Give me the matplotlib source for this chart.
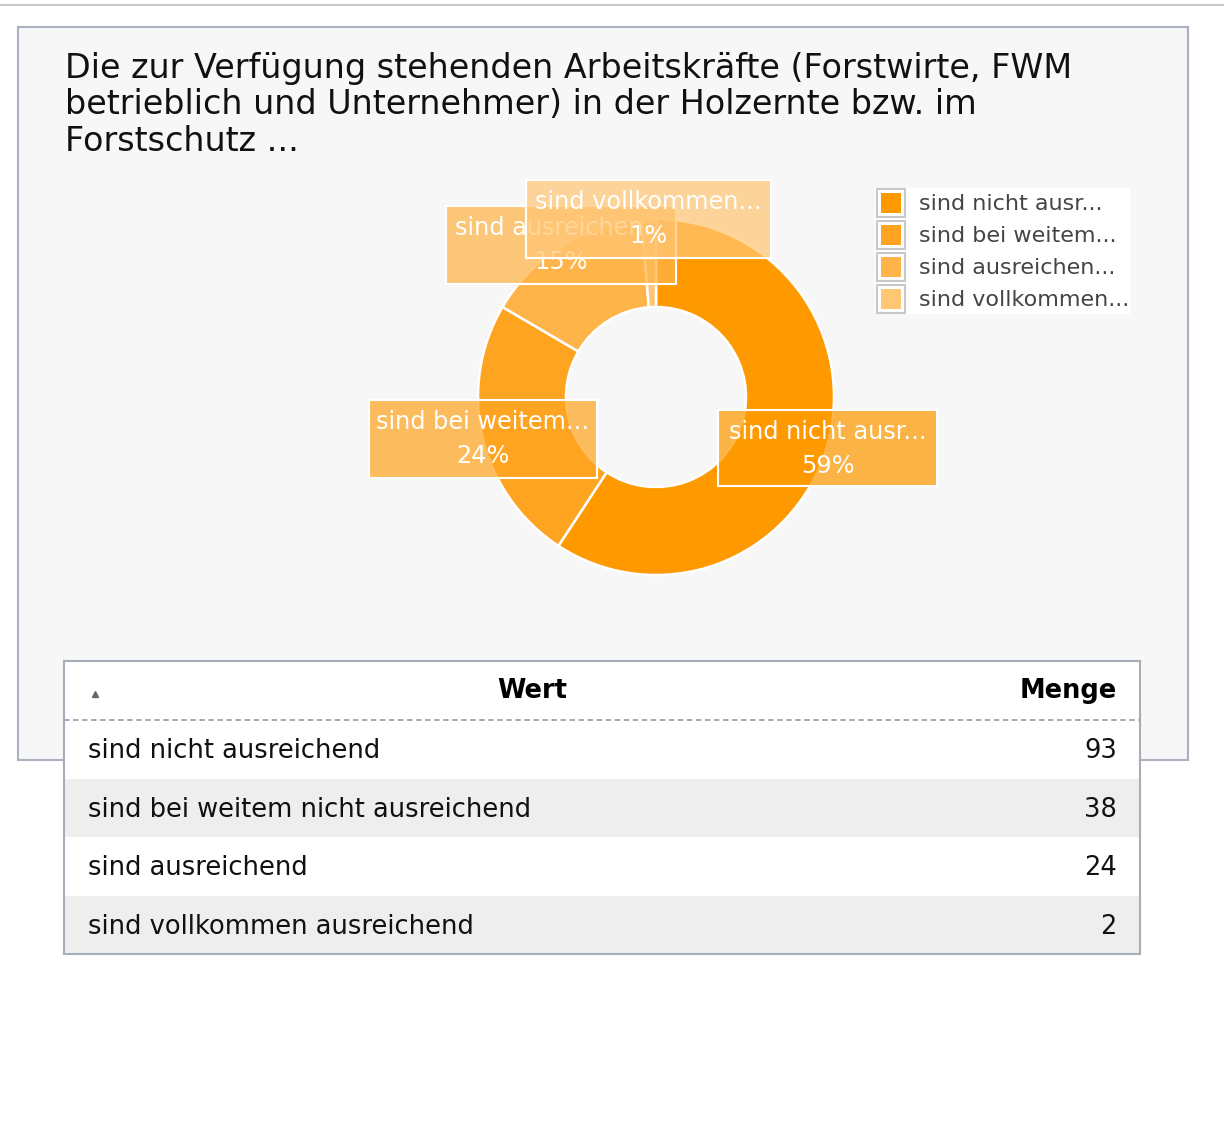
import matplotlib
matplotlib.use("Agg")
import matplotlib.pyplot as plt
from matplotlib.patches import Rectangle

# ---------------- data ----------------
title = ("Die zur Verfügung stehenden Arbeitskräfte (Forstwirte, FWM\n"
         "betrieblich und Unternehmer) in der Holzernte bzw. im\n"
         "Forstschutz ...")
categories = ["sind nicht ausreichend", "sind bei weitem nicht ausreichend",
              "sind ausreichend", "sind vollkommen ausreichend"]
short_labels = ["sind nicht ausr...", "sind bei weitem...",
                "sind ausreichen...", "sind vollkommen..."]
values = [93, 38, 24, 2]
colors = ["#ff9900", "#ffa420", "#ffb449", "#ffc673"]
col_headers = ["Wert", "Menge"]

W, H = 1224, 1134
fig = plt.figure(figsize=(W / 100, H / 100), dpi=100)
fig.patch.set_facecolor("white")

FONT = ["DejaVu Sans"]

# background axes in pixel coordinates
bg = fig.add_axes([0, 0, 1, 1], zorder=1)
bg.set_xlim(0, W); bg.set_ylim(H, 0); bg.axis("off")
bg.plot([0, W], [5, 5], color="#c9c9c9", lw=1.5)
bg.add_patch(Rectangle((18, 27), 1170, 733, facecolor="#f7f7f7",
                       edgecolor="#a9b1be", lw=1.5))
bg.text(65, 52, title, fontsize=24, family=FONT, color="#111111",
        va="top", ha="left", linespacing=1.13)

# donut axes
cx, cy, R = 656, 397, 178
half = 200
pax = fig.add_axes([(cx - half) / W, 1 - (cy + half) / H, 2 * half / W, 2 * half / H],
                   zorder=2)
pax.pie(values, colors=colors, radius=R, startangle=90, counterclock=False,
        wedgeprops=dict(width=88, edgecolor="white", linewidth=1.8))
pax.set_xlim(-half, half); pax.set_ylim(-half, half); pax.axis("off")

# overlay axes (labels, legend, table)
ov = fig.add_axes([0, 0, 1, 1], zorder=3)
ov.set_xlim(0, W); ov.set_ylim(H, 0); ov.axis("off")
ov.patch.set_alpha(0)

total = sum(values)
pcts = [f"{round(v / total * 100)}%" for v in values]

# label boxes: (x0, y0, x1, y1) in pixels, drawn in order
label_boxes = {0: (718, 410, 937, 486), 1: (369, 400, 597, 478),
               2: (446, 206, 676, 284), 3: (526, 180, 771, 258)}
for i in [0, 1, 2, 3]:
    x0, y0, x1, y1 = label_boxes[i]
    ov.add_patch(Rectangle((x0, y0), x1 - x0, y1 - y0, facecolor=colors[i],
                           alpha=0.72, edgecolor="none", zorder=2 + i))
    ov.add_patch(Rectangle((x0, y0), x1 - x0, y1 - y0, facecolor="none",
                           edgecolor="white", lw=1.5, zorder=2 + i))
    xc = (x0 + x1) / 2
    ov.text(xc, y0 + 22, short_labels[i], fontsize=17.3, family=FONT, color="white",
            ha="center", va="center", zorder=2 + i)
    ov.text(xc, y0 + 56, pcts[i], fontsize=17.3, family=FONT, color="white",
            ha="center", va="center", zorder=2 + i)

# legend
ov.add_patch(Rectangle((875, 188), 255, 126, facecolor="white", edgecolor="none"))
for i, lab in enumerate(short_labels):
    yc = 203 + 32 * i
    ov.add_patch(Rectangle((877, yc - 14), 28, 28, facecolor="white",
                           edgecolor="#c8c8c8", lw=1.5))
    ov.add_patch(Rectangle((881, yc - 10), 20, 20, facecolor=colors[i],
                           edgecolor="none"))
    ov.text(919, yc + 1, lab, fontsize=16, family=FONT, color="#444444",
            ha="left", va="center")

# table
tx0, tx1 = 64, 1140
ty0, hdr_h, row_h = 661, 59, 58.5
FS_T = 18.5
ov.add_patch(Rectangle((tx0, ty0), tx1 - tx0, hdr_h, facecolor="white",
                       edgecolor="none", zorder=5))
row_cols = ["white", "#eeeeee"]
for i, (cat, v) in enumerate(zip(categories, values)):
    y = ty0 + hdr_h + i * row_h
    ov.add_patch(Rectangle((tx0, y), tx1 - tx0, row_h, facecolor=row_cols[i % 2],
                           edgecolor="none", zorder=5))
    ov.text(88, y + row_h / 2 + 2, cat, fontsize=FS_T, family=FONT, color="#111111",
            ha="left", va="center", zorder=6)
    ov.text(1117, y + row_h / 2 + 2, str(v), fontsize=FS_T, family=FONT,
            color="#111111", ha="right", va="center", zorder=6)
ty1 = ty0 + hdr_h + len(values) * row_h
ov.add_patch(Rectangle((tx0, ty0), tx1 - tx0, ty1 - ty0, facecolor="none",
                       edgecolor="#a6adb9", lw=1.5, zorder=7))
ov.plot([tx0, tx1], [ty0 + hdr_h, ty0 + hdr_h], color="#9aa2b0", lw=1.3,
        ls=(0, (3, 2)), zorder=7)
ov.text(532, ty0 + hdr_h / 2, col_headers[0], fontsize=FS_T, family=FONT,
        weight="bold", color="#000000", ha="center", va="center", zorder=6)
ov.text(1117, ty0 + hdr_h / 2, col_headers[1], fontsize=FS_T, family=FONT,
        weight="bold", color="#000000", ha="right", va="center", zorder=6)
ov.plot([95], [694], marker="^", color="#666666", markersize=5, zorder=6)

fig.savefig("out.png", dpi=100)
